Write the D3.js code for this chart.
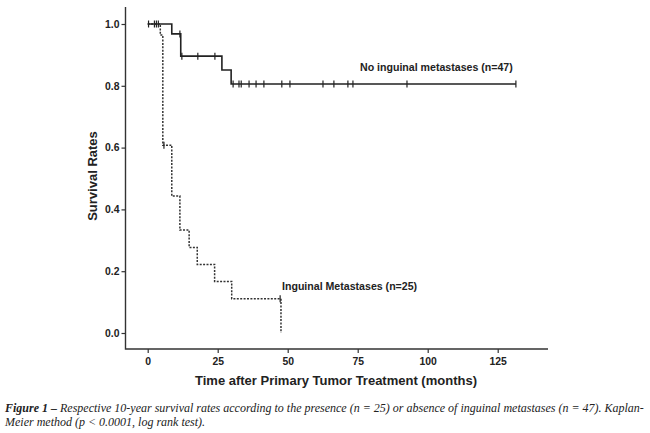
<!DOCTYPE html>
<html lang="en">
<head>
  <meta charset="UTF-8" />
  <title>Kaplan-Meier survival</title>
  <script src="https://d3js.org/d3.v7.min.js"></script>
  <style>
    body { margin: 0; background: #fff; font-family: 'Liberation Sans', Arial, sans-serif; }
    .tick text { font-size: 10.4px; font-weight: bold; fill: #222; }
    .caption { font-family: 'Liberation Serif', 'Times New Roman', serif; font-style: italic; font-size: 12px; fill: #222; }
  </style>
</head>
<body>
  <svg></svg>
  <script>
    // No inguinal metastases (n=47): event times and survival after each step
    const noMetTimes = [0, 8.6, 11.8, 26.5, 29.8];
    const noMetSurv  = [1.0, 0.968, 0.896, 0.851, 0.806];
    const noMetEnd = 131.5;
    const noMetCensor = [0.3, 2.4, 3.1, 3.8, 11.5, 12.2, 17.9, 24.0, 30.5, 32.6, 33.4, 36.2,
                         38.7, 41.5, 47.9, 50.8, 62.6, 66.5, 71.5, 73.3, 92.6, 131.5];

    // Inguinal metastases (n=25)
    const metTimes = [0, 4.5, 5.4, 8.6, 11.5, 14.8, 17.7, 23.9, 30.0, 47.6];
    const metSurv  = [1.0, 0.964, 0.608, 0.443, 0.333, 0.277, 0.222, 0.167, 0.111, 0.0];
    const metCensor = [5.8, 47.3];

    const xTicks = [0, 25, 50, 75, 100, 125];
    const yTicks = [0, 0.2, 0.4, 0.6, 0.8, 1.0];

    const W = 650, H = 433;
    const svg = d3.select("svg").attr("width", W).attr("height", H);

    const x = d3.scaleLinear().domain([0, 125]).range([147.7, 497.7]);
    const y = d3.scaleLinear().domain([0, 1]).range([333, 24]);

    const axisX = 125.5, axisY = 349;

    // left axis
    const gy = svg.append("g").attr("transform", `translate(${axisX},0)`)
      .call(d3.axisLeft(y).tickValues(yTicks).tickFormat(d3.format(".1f")).tickSize(4).tickPadding(2));
    gy.select(".domain").remove();
    gy.selectAll(".tick line").attr("stroke", "#333").attr("stroke-width", 1.2);

    // bottom axis
    const gx = svg.append("g").attr("transform", `translate(0,${axisY})`)
      .call(d3.axisBottom(x).tickValues(xTicks).tickSize(4).tickPadding(5));
    gx.select(".domain").remove();
    gx.selectAll(".tick line").attr("stroke", "#333").attr("stroke-width", 1.2);

    svg.append("path")
      .attr("d", `M${axisX},7V${axisY}H548`)
      .attr("fill", "none").attr("stroke", "#333").attr("stroke-width", 1.4);

    const stepPts = (times, surv, end) => {
      const pts = times.map((t, i) => [t, surv[i]]);
      if (end != null) pts.push([end, surv[surv.length - 1]]);
      return pts;
    };
    const survAt = (times, surv, t) => {
      let v = surv[0];
      times.forEach((tt, i) => { if (tt <= t) v = surv[i]; });
      return v;
    };

    const line = d3.line().x(d => x(d[0])).y(d => y(d[1])).curve(d3.curveStepAfter);

    // dashed curve first (underneath)
    svg.append("path")
      .datum(stepPts(metTimes, metSurv, null))
      .attr("d", line)
      .attr("fill", "none").attr("stroke", "#333").attr("stroke-width", 1.5)
      .attr("stroke-dasharray", "2,1.4");

    svg.append("path")
      .datum(stepPts(noMetTimes, noMetSurv, noMetEnd))
      .attr("d", line)
      .attr("fill", "none").attr("stroke", "#222").attr("stroke-width", 1.6);

    const censor = (times, surv, list, cls) => {
      svg.selectAll("line." + cls).data(list).join("line")
        .attr("class", cls)
        .attr("x1", d => x(d)).attr("x2", d => x(d))
        .attr("y1", d => y(survAt(times, surv, d)) - 3.5)
        .attr("y2", d => y(survAt(times, surv, d)) + 3.5)
        .attr("stroke", "#222").attr("stroke-width", 1.2);
    };
    censor(noMetTimes, noMetSurv, noMetCensor, "c1");
    censor(metTimes, metSurv, metCensor, "c2");

    // series labels
    svg.append("text").attr("x", 360).attr("y", 71)
      .style("font-size", "10.6px").style("font-weight", "bold").attr("fill", "#222")
      .text("No inguinal metastases (n=47)");
    svg.append("text").attr("x", 282).attr("y", 289.5)
      .style("font-size", "10.6px").style("font-weight", "bold").attr("fill", "#222")
      .text("Inguinal Metastases (n=25)");

    // axis titles
    svg.append("text").attr("x", 336).attr("y", 385)
      .attr("text-anchor", "middle")
      .style("font-size", "13px").style("font-weight", "bold").attr("fill", "#222")
      .text("Time after Primary Tumor Treatment (months)");
    svg.append("text").attr("transform", "translate(97,176) rotate(-90)")
      .attr("text-anchor", "middle")
      .style("font-size", "13px").style("font-weight", "bold").attr("fill", "#222")
      .text("Survival Rates");

    // caption
    const cap = svg.append("text").attr("class", "caption").attr("x", 5).attr("y", 412);
    cap.append("tspan").style("font-weight", "bold").text("Figure 1 –");
    cap.append("tspan").text(" Respective 10-year survival rates according to the presence (n = 25) or absence of inguinal metastases (n = 47). Kaplan-");
    svg.append("text").attr("class", "caption").attr("x", 5).attr("y", 426)
      .text("Meier method (p < 0.0001, log rank test).");
  </script>
</body>
</html>
